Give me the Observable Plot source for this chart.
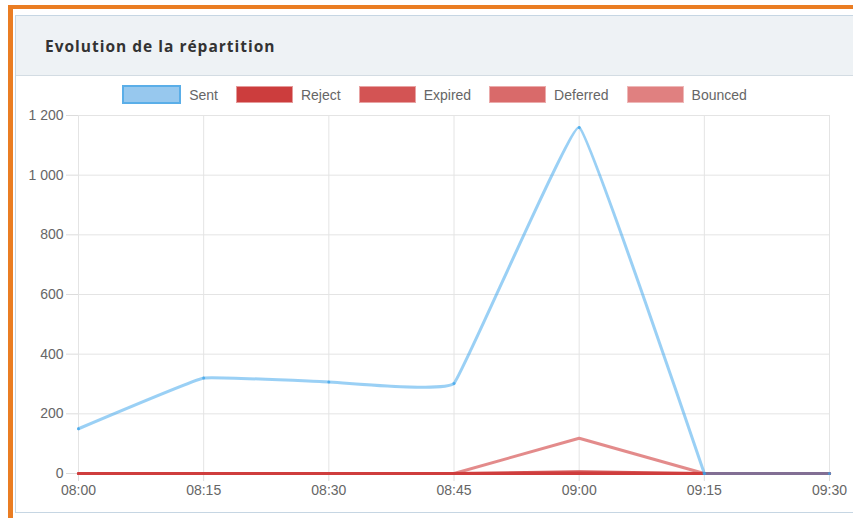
<!DOCTYPE html>
<html>
<head>
<meta charset="utf-8">
<script src="https://cdn.jsdelivr.net/npm/d3@7"></script>
<script src="https://cdn.jsdelivr.net/npm/@observablehq/plot@0.6"></script>
<style>
  html, body { margin: 0; padding: 0; background: #fff; width: 853px; height: 518px; overflow: hidden; }
  #frame { position: absolute; left: 8px; top: 5px; width: 860px; height: 530px; border-top: 4px solid #ea7d23; border-left: 5px solid #ea7d23; box-sizing: border-box; }
  #panel { position: absolute; left: 15px; top: 15px; width: 850px; height: 498px; border: 1px solid #c6d6e3; box-sizing: border-box; background: #fff; }
  #header { position: absolute; left: 0; top: 0; right: 0; height: 60px; background: #eef2f5; border-bottom: 1px solid #d3dce3; box-sizing: border-box; }
  #title { position: absolute; left: 29px; top: 19px; font: 700 15.5px "Open Sans", "Liberation Sans", sans-serif; letter-spacing: 1px; color: #333; }
  #legend { position: absolute; left: 16px; width: 837px; top: 85px; display: flex; justify-content: center; align-items: center; font: 14px "Liberation Sans", Arial, sans-serif; color: #666; }
  .item { display: flex; align-items: center; margin: 0 9px; }
  .box { width: 55px; height: 15px; margin-right: 8px; }
  #chart { position: absolute; left: 0; top: 105px; }
</style>
</head>
<body>
<div id="frame"></div>
<div id="panel"><div id="header"><div id="title">Evolution de la répartition</div></div></div>
<div id="legend"></div>
<div id="chart"></div>
<script>
const times = ["08:00", "08:15", "08:30", "08:45", "09:00", "09:15", "09:30"];
const seriesNames = ["Sent", "Reject", "Expired", "Deferred", "Bounced"];
const sent     = [150, 320, 307, 302, 1160, 0, 0];
const reject   = [0, 0, 0, 0, 0, 0, 0];
const expired  = [0, 0, 0, 0, 6, 0, 0];
const deferred = [0, 0, 0, 0, 0, 0, 0];
const bounced  = [0, 0, 0, 0, 118, 0, 0];
const yTicks = [0, 200, 400, 600, 800, 1000, 1200];

const lineColors = {
  Sent: "#36a2eb",
  Reject: "#cf3d3d",
  Expired: "#d45252",
  Deferred: "#d96868",
  Bounced: "#e07e7e"
};
const boxFill = {
  Sent: "#97c8ee", Reject: "#cc3d3d", Expired: "#d35454", Deferred: "#d96a6a", Bounced: "#e08080"
};
const boxBorder = {
  Sent: "#5aaee8", Reject: "#e59a9a", Expired: "#e8a3a3", Deferred: "#ebabab", Bounced: "#eeb8b8"
};

const parseT = t => { const [h, m] = t.split(":").map(Number); return new Date(Date.UTC(2020, 0, 1, h, m)); };
const valuesBy = { Sent: sent, Reject: reject, Expired: expired, Deferred: deferred, Bounced: bounced };
const rows = name => times.map((t, i) => ({ time: parseT(t), value: valuesBy[name][i], series: name }));

// legend
const legend = document.getElementById("legend");
for (const name of seriesNames) {
  const item = document.createElement("div");
  item.className = "item";
  const box = document.createElement("div");
  box.className = "box";
  box.style.background = boxFill[name];
  box.style.border = "1px solid " + boxBorder[name];
  if (name === "Sent") box.style.border = "2px solid " + boxBorder[name];
  const label = document.createElement("span");
  label.textContent = name;
  item.append(box, label);
  legend.append(item);
}

const xTicks = times.map(parseT);
const fmtNum = d => d3.format(",")(d).replace(/,/g, " ");
const redOrder = ["Bounced", "Deferred", "Expired", "Reject"];

// Sent: smooth segment while non-zero, then a flat (capped) segment at zero
const sentRows = rows("Sent");
const lastNonZero = sent.findLastIndex(v => v !== 0);
const sentSegs = [
  ...sentRows.slice(0, lastNonZero + 2).map(d => ({ ...d, seg: "a" })),
  ...sentRows.slice(lastNonZero + 1).map(d => ({ ...d, seg: "b" }))
];

const plot = Plot.plot({
  width: 853,
  height: 405,
  marginLeft: 78,
  marginRight: 24,
  marginTop: 10,
  marginBottom: 37,
  style: { fontFamily: "'Liberation Sans', Arial, sans-serif", fontSize: "14px", color: "#666", background: "transparent" },
  x: { type: "utc", domain: [xTicks[0], xTicks[xTicks.length - 1]] },
  y: { domain: [0, 1200] },
  marks: [
    Plot.gridY(yTicks, { stroke: "#e4e4e4", strokeOpacity: 1 }),
    Plot.gridX(xTicks, { stroke: "#e4e4e4", strokeOpacity: 1 }),
    Plot.axisY(yTicks, { tickSize: 12, tickPadding: 3, stroke: "#dcdcdc", fill: "#666", tickFormat: fmtNum, label: null }),
    Plot.axisX(xTicks, { tickSize: 8, tickPadding: 4, stroke: "#dcdcdc", fill: "#666", tickFormat: d3.utcFormat("%H:%M"), label: null }),
    ...redOrder.map(name => Plot.line(rows(name), { x: "time", y: "value", stroke: lineColors[name], strokeWidth: 3, strokeOpacity: name === "Bounced" ? 0.9 : 1 })),
    Plot.line(sentSegs, { x: "time", y: "value", z: "seg", stroke: lineColors.Sent, strokeOpacity: 0.5, strokeWidth: 3, curve: "cardinal", tension: 0.78 }),
    Plot.dot(sentRows, { x: "time", y: "value", r: 1.5, fill: lineColors.Sent, fillOpacity: 0.7 })
  ]
});
document.getElementById("chart").append(plot);
</script>
</body>
</html>
